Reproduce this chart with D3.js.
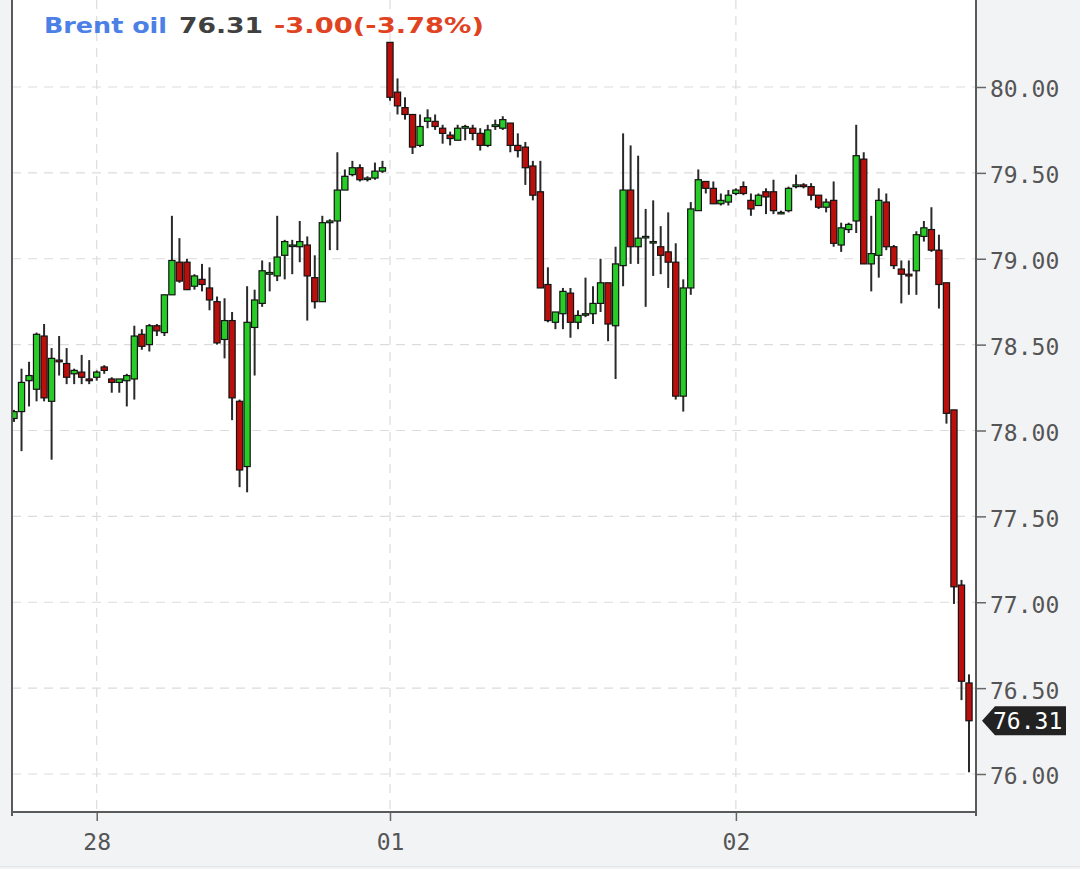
<!DOCTYPE html>
<html><head><meta charset="utf-8">
<script src="https://cdn.jsdelivr.net/npm/d3@7"></script>
<style>html,body{margin:0;padding:0;background:#f2f3f5;} svg{display:block;}</style>
</head><body><svg id="c" width="1080" height="869"></svg>
<script>
// ---- data (30-min candles, index order) ----
const opens  = [78.07,78.11,78.29,78.24,78.55,78.17,78.41,78.39,78.33,78.34,78.30,78.31,78.37,78.30,78.28,78.29,78.30,78.56,78.50,78.61,78.57,78.79,78.98,78.98,78.84,
78.88,78.83,78.75,78.53,78.64,78.17,77.79,78.60,78.74,78.91,78.90,79.02,79.08,79.07,79.08,78.89,78.75,79.21,79.22,79.40,79.49,79.53,79.47,79.47,79.51,
80.26,79.97,79.88,79.84,79.66,79.80,79.80,79.76,79.72,79.69,79.76,79.76,79.73,79.66,79.77,79.76,79.79,79.66,79.65,79.54,79.39,78.85,78.63,
78.68,78.80,78.63,78.68,78.68,78.74,78.86,78.61,78.96,79.40,79.07,79.13,79.10,79.07,79.04,78.98,78.20,78.83,79.28,79.45,
79.41,79.32,79.33,79.38,79.42,79.34,79.31,79.39,79.39,79.27,79.28,79.42,79.43,79.42,79.37,79.30,79.34,79.08,79.17,79.22,
79.58,78.97,79.02,79.33,79.07,78.94,78.91,78.93,79.13,79.17,79.05,78.86,78.12,77.10,76.53];
const highs  = [78.12,78.36,78.40,78.57,78.62,78.48,78.55,78.48,78.36,78.44,78.41,78.35,78.38,78.31,78.30,78.33,78.61,78.59,78.62,78.62,78.79,79.25,79.12,79.00,78.91,
78.97,78.95,78.78,78.77,78.69,78.18,78.84,78.82,78.99,78.98,79.25,79.11,79.11,79.22,79.13,79.02,79.25,79.23,79.62,79.52,79.57,79.55,79.48,79.56,79.57,
80.26,80.05,79.94,79.84,79.84,79.87,79.84,79.78,79.74,79.78,79.78,79.78,79.76,79.78,79.81,79.83,79.79,79.73,79.68,79.57,79.57,78.95,78.69,
78.83,78.83,78.70,78.89,78.84,79.00,78.86,79.07,79.73,79.66,79.60,79.29,79.34,79.19,79.27,79.09,78.88,79.33,79.52,79.45,
79.45,79.38,79.40,79.41,79.45,79.38,79.38,79.41,79.46,79.28,79.42,79.49,79.44,79.44,79.37,79.35,79.45,79.21,79.21,79.78,
79.62,79.25,79.41,79.38,79.08,78.99,78.99,79.16,79.22,79.30,79.14,78.86,78.12,77.13,76.58];
const lows   = [78.05,77.88,78.14,78.17,78.17,77.83,78.32,78.27,78.27,78.27,78.27,78.29,78.33,78.22,78.22,78.14,78.18,78.47,78.46,78.55,78.55,78.79,78.86,78.82,78.82,
78.81,78.70,78.50,78.42,78.06,77.67,77.64,78.32,78.72,78.81,78.87,78.88,78.91,78.98,78.64,78.71,78.75,79.05,79.05,79.40,79.48,79.45,79.45,79.46,79.50,
79.92,79.84,79.81,79.61,79.65,79.76,79.75,79.67,79.66,79.69,79.69,79.69,79.63,79.65,79.75,79.75,79.62,79.59,79.43,79.34,78.83,78.63,78.59,
78.59,78.54,78.59,78.66,78.62,78.69,78.52,78.30,78.84,78.97,78.97,78.72,78.90,78.91,78.83,78.18,78.11,78.79,79.28,79.38,
79.32,79.31,79.31,79.37,79.37,79.25,79.31,79.26,79.26,79.26,79.27,79.41,79.41,79.34,79.29,79.27,79.07,79.04,79.15,79.15,
78.97,78.81,78.89,79.05,78.94,78.74,78.79,78.79,79.10,79.04,78.71,78.04,76.99,76.43,76.01];
const closes = [78.11,78.28,78.32,78.56,78.19,78.42,78.40,78.31,78.35,78.31,78.29,78.34,78.35,78.28,78.30,78.32,78.55,78.49,78.61,78.58,78.79,78.99,78.87,78.82,78.90,
78.85,78.76,78.51,78.64,78.19,77.77,78.63,78.76,78.93,78.92,79.01,79.10,79.08,79.10,78.90,78.75,79.21,79.22,79.40,79.48,79.53,79.46,79.47,79.51,79.53,
79.94,79.89,79.84,79.65,79.77,79.82,79.77,79.73,79.70,79.76,79.77,79.73,79.66,79.75,79.78,79.81,79.66,79.63,79.53,79.37,78.83,78.64,78.69,
78.81,78.63,78.67,78.68,78.74,78.86,78.62,78.97,79.40,79.07,79.12,79.13,79.10,79.02,78.98,78.20,78.83,79.29,79.46,79.41,
79.32,79.34,79.37,79.40,79.38,79.29,79.37,79.36,79.28,79.27,79.41,79.43,79.42,79.37,79.30,79.33,79.09,79.18,79.20,79.60,
78.97,79.03,79.34,79.07,78.96,78.91,78.90,79.14,79.18,79.05,78.85,78.10,77.09,76.54,76.31];
const xTickIndex  = [11, 50, 96];
const xTickLabels = ["28", "01", "02"];
const yTicks = [76.0, 76.5, 77.0, 77.5, 78.0, 78.5, 79.0, 79.5, 80.0];
const titleName = "Brent oil";
const titleLast = "76.31";
const titleChange = "-3.00(-3.78%)";
const lastPrice = 76.31;

// ---- drawing ----
const svg = d3.select("#c");
const L = 12, R = 976, B = 812;
const x = d3.scaleLinear().domain([-0.266, 127.93]).range([L, R]);
const y = d3.scaleLinear().domain([76, 80]).range([774, 87]);
const MONO = "'DejaVu Sans Mono', monospace";

svg.append("rect").attr("x",0).attr("y",0).attr("width",1080).attr("height",869).attr("fill","#f2f3f5");
svg.append("rect").attr("x",L).attr("y",0).attr("width",R-L).attr("height",B).attr("fill","#ffffff");
svg.append("line").attr("x1",0).attr("x2",1080).attr("y1",866.5).attr("y2",866.5).attr("stroke","#e3e5e9").attr("stroke-width",1);

svg.append("defs").append("clipPath").attr("id","plot")
  .append("rect").attr("x",L).attr("y",0).attr("width",R-L).attr("height",B);

// grid
const grid = svg.append("g").attr("stroke","#dcdcdc").attr("stroke-width",1.2).attr("stroke-dasharray","9,7");
grid.selectAll("line.h").data(yTicks).join("line").attr("class","h")
  .attr("x1",L).attr("x2",R).attr("y1",d=>y(d)).attr("y2",d=>y(d));
grid.selectAll("line.v").data(xTickIndex).join("line").attr("class","v")
  .attr("x1",d=>x(d)).attr("x2",d=>x(d)).attr("y1",0).attr("y2",B);

// candles
const idx = d3.range(closes.length);
const cg = svg.append("g").attr("clip-path","url(#plot)");
cg.selectAll("line.w").data(idx).join("line").attr("class","w")
  .attr("x1",i=>x(i)).attr("x2",i=>x(i))
  .attr("y1",i=>y(highs[i])).attr("y2",i=>y(lows[i]))
  .attr("stroke","#2a2a2a").attr("stroke-width",2);
const bw = 6.2;
cg.selectAll("rect.b").data(idx).join("rect").attr("class","b")
  .attr("x",i=>x(i)-bw/2).attr("width",bw)
  .attr("y",i=>y(Math.max(opens[i],closes[i])))
  .attr("height",i=>Math.max(1.5, Math.abs(y(opens[i])-y(closes[i]))))
  .attr("fill",i=>closes[i]>=opens[i] ? "#27cc27" : "#bb0f0c")
  .attr("stroke","#141414").attr("stroke-width",1.2);

// axes
const yAxis = svg.append("g").attr("transform",`translate(${R+1},0)`)
  .call(d3.axisRight(y).tickValues(yTicks).tickFormat(d3.format(".2f")).tickSize(9).tickPadding(4));
yAxis.select(".domain").remove();
yAxis.selectAll("line").attr("stroke","#666").attr("stroke-width",1.5);
yAxis.selectAll("text").attr("font-family",MONO).attr("font-size",23).attr("fill","#555").attr("dy","0.43em");

const xAxis = svg.append("g").attr("transform",`translate(0,${B})`)
  .call(d3.axisBottom(x).tickValues(xTickIndex).tickFormat((d,i)=>xTickLabels[i]).tickSize(9));
xAxis.select(".domain").remove();
xAxis.selectAll("line").attr("stroke","#666").attr("stroke-width",1.5);
xAxis.selectAll("text").attr("font-family",MONO).attr("font-size",23).attr("fill","#555").attr("y",22);

// frame
const fr = svg.append("g").attr("stroke","#5a5a5a").attr("stroke-width",2).attr("fill","none");
fr.append("line").attr("x1",L).attr("x2",L).attr("y1",0).attr("y2",B+4);
fr.append("line").attr("x1",L-1).attr("x2",R+1).attr("y1",B).attr("y2",B);
fr.append("line").attr("x1",R).attr("x2",R).attr("y1",0).attr("y2",B+4);

// last price marker
const yp = y(lastPrice);
svg.append("path")
  .attr("d",`M${R+6},${yp} L${R+19},${yp-14.5} L${R+90},${yp-14.5} L${R+90},${yp+14.5} L${R+19},${yp+14.5} Z`)
  .attr("fill","#222");
svg.append("text").attr("x",R+17).attr("y",yp).attr("dy","0.36em")
  .attr("font-family",MONO).attr("font-size",23).attr("fill","#fff").text(d3.format(".2f")(lastPrice));

// title
const tf = "'DejaVu Sans', sans-serif";
const t = svg.append("g").attr("font-family",tf).attr("font-weight","bold").attr("font-size",21);
t.append("text").attr("x",44).attr("y",33).attr("fill","#4b80e6").attr("textLength",123).attr("lengthAdjust","spacingAndGlyphs").text(titleName);
t.append("text").attr("x",179).attr("y",33).attr("fill","#404040").attr("textLength",84).attr("lengthAdjust","spacingAndGlyphs").text(titleLast);
t.append("text").attr("x",274).attr("y",33).attr("fill","#e0431f").attr("textLength",210).attr("lengthAdjust","spacingAndGlyphs").text(titleChange);
</script></body></html>
